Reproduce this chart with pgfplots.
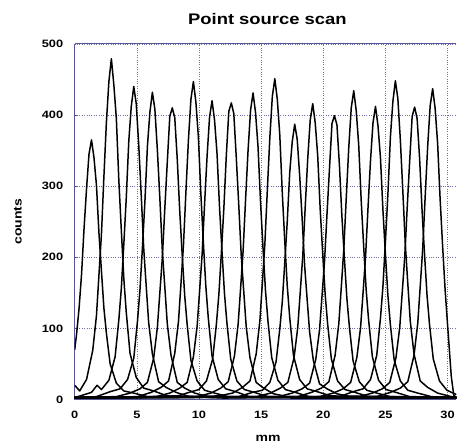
\documentclass[border=0pt]{standalone}
\usepackage{fontspec}
\setmainfont{Liberation Sans}[FakeStretch=1.2]
\usepackage{pgfplots}
\pgfplotsset{compat=1.18}
\definecolor{axblue}{RGB}{86,86,150}
\definecolor{gridblue}{RGB}{110,110,175}
\begin{document}
\begin{tikzpicture}[pk/.style={black, line width=1.5pt, mark=none, line join=round}]
\begin{axis}[
    at={(0,0)}, anchor=south west,
    scale only axis,
    width=383pt, height=357pt,
    xmin=0, xmax=30.7,
    ymin=0, ymax=500,
    axis x line*=box, axis y line*=left,
    axis line style={axblue, line width=0.9pt},
    xtick={0,5,...,30}, ytick={0,100,...,500},
    xtick pos=bottom,
    tick style={axblue, line width=0.8pt},
    major tick length=3pt,
    tick align=inside,
    grid=major,
    major grid style={gridblue, dotted, line width=0.6pt},
    /pgf/number format/assume math mode=true,
    xticklabel={\pgfmathprintnumber{\tick}},
    yticklabel={\pgfmathprintnumber{\tick}},
    tick label style={font=\bfseries\fontsize{10.7}{12}\selectfont},
    xticklabel style={yshift=-8.5pt},
    yticklabel style={xshift=-8pt},
    title={\bfseries\fontsize{15.4}{17}\selectfont Point source scan},
    title style={at={(axis description cs:0.505,1.070)}, anchor=center, yshift=-6pt},
    xlabel={\bfseries\fontsize{11.7}{13}\selectfont mm},
    xlabel style={at={(axis description cs:0.507,-0.109)}, anchor=center},
    ylabel={\bfseries\fontsize{11.7}{13}\selectfont counts},
    ylabel style={at={(axis description cs:-0.149,0.5)}, anchor=center, rotate=0},
]
\addplot[pk] coordinates {(0,70) (0.15,92) (0.35,128) (0.55,176) (0.75,240) (0.95,296) (1.15,345) (1.35,365) (1.55,340) (1.75,301) (1.95,234) (2.15,181) (2.35,128) (2.55,93) (2.85,50) (3.35,23) (3.95,12) (4.75,9) (5.85,4) (8.0,5) (12.0,2) (20.0,4) (30.7,2)};
\addplot[pk] coordinates {(0,20) (0.4,12) (0.95,28) (1.45,69) (1.75,118) (1.95,175) (2.15,232) (2.35,314) (2.55,390) (2.75,447) (2.95,479) (3.15,442) (3.35,395) (3.55,308) (3.75,238) (3.95,170) (4.15,122) (4.45,65) (4.95,31) (5.55,16) (6.35,12) (7.45,5) (11.0,3) (18.0,2) (30.7,2)};
\addplot[pk] coordinates {(0,3) (0.25,4) (1.35,10) (1.8,20) (2.15,14) (2.75,27) (3.25,60) (3.55,112) (3.75,156) (3.95,218) (4.15,284) (4.35,363) (4.55,412) (4.75,440) (4.95,416) (5.15,358) (5.35,288) (5.55,213) (5.75,160) (5.95,108) (6.25,64) (6.75,25) (7.35,17) (8.15,10) (9.25,4) (15.0,3) (30.7,2)};
\addplot[pk] coordinates {(0,2) (1.75,4) (2.85,11) (3.65,15) (4.25,28) (4.75,58) (5.05,110) (5.25,154) (5.45,214) (5.65,279) (5.85,356) (6.05,404) (6.25,432) (6.45,408) (6.65,351) (6.85,283) (7.05,209) (7.25,158) (7.45,106) (7.75,62) (8.25,24) (8.85,16) (9.65,9) (10.75,4) (30.7,3)};
\addplot[pk] coordinates {(0,3) (3.35,4) (4.45,9) (5.25,15) (5.85,24) (6.35,58) (6.65,101) (6.85,150) (7.05,199) (7.25,269) (7.45,334) (7.65,398) (7.85,410) (8.05,396) (8.25,338) (8.45,265) (8.65,203) (8.85,146) (9.05,105) (9.35,55) (9.85,26) (10.45,13) (11.25,9) (12.35,4) (30.7,2)};
\addplot[pk] coordinates {(0,2) (5.05,4) (6.15,10) (6.95,17) (7.55,26) (8.05,65) (8.35,110) (8.55,163) (8.75,217) (8.95,293) (9.15,365) (9.35,422) (9.55,447) (9.75,418) (9.95,369) (10.15,289) (10.35,221) (10.55,159) (10.75,114) (11.05,61) (11.55,28) (12.15,15) (12.95,11) (14.05,4) (30.7,3)};
\addplot[pk] coordinates {(0,3) (6.55,4) (7.65,9) (8.45,16) (9.05,24) (9.55,60) (9.85,103) (10.05,153) (10.25,204) (10.45,275) (10.65,342) (10.85,397) (11.05,420) (11.25,393) (11.45,346) (11.65,271) (11.85,208) (12.05,149) (12.25,107) (12.55,57) (13.05,26) (13.65,14) (14.45,10) (15.55,4) (30.7,2)};
\addplot[pk] coordinates {(0,2) (8.1,4) (9.2,10) (10.0,14) (10.6,26) (11.1,57) (11.4,106) (11.6,148) (11.8,206) (12.0,269) (12.2,344) (12.4,405) (12.6,417) (12.8,402) (13.0,340) (13.2,273) (13.4,202) (13.6,152) (13.8,102) (14.1,59) (14.6,24) (15.2,16) (16.0,8) (17.1,4) (30.7,3)};
\addplot[pk] coordinates {(0,3) (9.85,4) (10.95,9) (11.75,16) (12.35,25) (12.85,61) (13.15,106) (13.35,157) (13.55,209) (13.75,282) (13.95,351) (14.15,407) (14.35,431) (14.55,403) (14.75,355) (14.95,278) (15.15,213) (15.35,153) (15.55,110) (15.85,59) (16.35,27) (16.95,14) (17.75,10) (18.85,4) (30.7,2)};
\addplot[pk] coordinates {(0,2) (11.6,5) (12.7,9) (13.5,17) (14.1,26) (14.6,64) (14.9,111) (15.1,164) (15.3,219) (15.5,295) (15.7,368) (15.9,426) (16.1,451) (16.3,422) (16.5,372) (16.7,291) (16.9,223) (17.1,160) (17.3,115) (17.6,62) (18.1,28) (18.7,15) (19.5,11) (20.6,5) (30.7,3)};
\addplot[pk] coordinates {(0,3) (13.2,4) (14.3,10) (15.1,13) (15.7,24) (16.2,53) (16.5,99) (16.7,137) (16.9,192) (17.1,250) (17.3,319) (17.5,362) (17.7,387) (17.9,366) (18.1,315) (18.3,254) (18.5,188) (18.7,141) (18.9,95) (19.2,55) (19.7,22) (20.3,15) (21.1,8) (22.2,4) (30.7,2)};
\addplot[pk] coordinates {(0,2) (14.65,4) (15.75,9) (16.55,16) (17.15,24) (17.65,59) (17.95,102) (18.15,152) (18.35,202) (18.55,272) (18.75,339) (18.95,393) (19.15,416) (19.35,389) (19.55,343) (19.75,268) (19.95,206) (20.15,148) (20.35,106) (20.65,57) (21.15,26) (21.75,14) (22.55,10) (23.65,4) (30.7,3)};
\addplot[pk] coordinates {(0,3) (16.4,4) (17.5,9) (18.3,15) (18.9,23) (19.4,57) (19.7,98) (19.9,146) (20.1,194) (20.3,261) (20.5,325) (20.7,388) (20.9,399) (21.1,386) (21.3,329) (21.5,257) (21.7,198) (21.9,142) (22.1,102) (22.4,54) (22.9,25) (23.5,13) (24.3,9) (25.4,4) (30.7,2)};
\addplot[pk] coordinates {(0,2) (17.95,4) (19.05,10) (19.85,16) (20.45,25) (20.95,62) (21.25,107) (21.45,158) (21.65,211) (21.85,284) (22.05,354) (22.25,410) (22.45,434) (22.65,406) (22.85,358) (23.05,280) (23.25,215) (23.45,154) (23.65,111) (23.95,60) (24.45,27) (25.05,14) (25.85,10) (26.95,4) (30.7,3)};
\addplot[pk] coordinates {(0,3) (19.7,4) (20.8,9) (21.6,15) (22.2,24) (22.7,59) (23.0,101) (23.2,150) (23.4,200) (23.6,270) (23.8,336) (24.0,389) (24.2,412) (24.4,385) (24.6,340) (24.8,266) (25.0,204) (25.2,146) (25.4,105) (25.7,56) (26.2,26) (26.8,13) (27.6,9) (28.7,4) (30.7,2)};
\addplot[pk] coordinates {(0,2) (21.3,4) (22.4,11) (23.2,15) (23.8,28) (24.3,62) (24.6,114) (24.8,159) (25.0,222) (25.2,289) (25.4,369) (25.6,419) (25.8,448) (26.0,423) (26.2,365) (26.4,293) (26.6,218) (26.8,163) (27.0,110) (27.3,64) (27.8,26) (28.4,17) (29.2,9) (30.3,4) (30.7,3)};
\addplot[pk] coordinates {(0,3) (22.85,4) (23.95,9) (24.75,15) (25.35,24) (25.85,59) (26.15,101) (26.35,150) (26.55,199) (26.75,269) (26.95,335) (27.15,398) (27.35,411) (27.55,395) (27.75,339) (27.95,265) (28.15,203) (28.35,146) (28.55,105) (28.85,57) (29.35,26) (29.95,13) (30.7,7)};
\addplot[pk] coordinates {(0,2) (24.3,4) (25.4,10) (26.2,16) (26.8,25) (27.3,62) (27.6,107) (27.8,159) (28.0,212) (28.2,286) (28.4,356) (28.6,413) (28.8,437) (29.0,409) (29.2,360) (29.4,282) (29.6,216) (29.8,155) (30.0,105) (30.3,32) (30.5,6) (30.7,3)};
\end{axis}
\path (-75pt,-42pt) rectangle (383pt,401pt);
\end{tikzpicture}
\end{document}
